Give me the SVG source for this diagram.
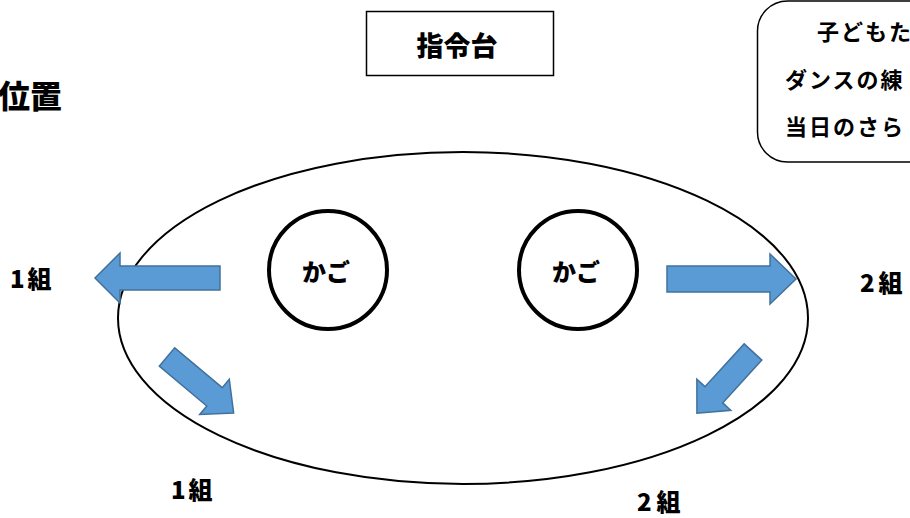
<svg xmlns="http://www.w3.org/2000/svg" width="910" height="518" viewBox="0 0 910 518">
  <style>
    .pop { font-family: "Noto Sans CJK JP", "Noto Sans", sans-serif; font-weight: 900; fill: #000; }
    .note { font-family: "Noto Sans CJK JP", "Noto Sans", sans-serif; font-weight: 700; fill: #000; font-size: 22px; letter-spacing: 2px; }
    .arrow { fill: #5B9BD5; stroke: #41719C; stroke-width: 1.5; stroke-linejoin: miter; }
    .ring { fill: none; stroke: #000; stroke-width: 4; }
  </style>
  <rect width="910" height="518" fill="#fff"/>

  <g id="field">
    <ellipse cx="463" cy="318" rx="345" ry="166" fill="none" stroke="#000" stroke-width="2"/>
  </g>

  <g id="title">
    <text class="pop" x="-2" y="108" font-size="32">位置</text>
  </g>

  <g id="podium">
    <rect x="366.5" y="11.5" width="187" height="64" fill="#fff" stroke="#000" stroke-width="1.5"/>
    <text class="pop" x="457" y="56" font-size="27" text-anchor="middle">指令台</text>
  </g>

  <g id="note">
    <rect x="757.5" y="1" width="200" height="161" rx="30" ry="30" fill="#fff" stroke="#000" stroke-width="1.5"/>
    <text class="note" x="817" y="40">子どもた</text>
    <text class="note" x="785" y="88">ダンスの練</text>
    <text class="note" x="785" y="135">当日のさら</text>
  </g>

  <g id="basket1">
    <circle class="ring" cx="328" cy="270" r="59"/>
    <text class="pop" x="326" y="281" font-size="24" text-anchor="middle">かご</text>
  </g>

  <g id="basket2">
    <circle class="ring" cx="578" cy="270" r="59"/>
    <text class="pop" x="576" y="281" font-size="24" text-anchor="middle">かご</text>
  </g>

  <g id="label-1-left">
    <text class="pop" x="10" y="288" font-size="24" letter-spacing="3">1組</text>
  </g>
  <g id="label-2-right">
    <text class="pop" x="860" y="292" font-size="24" letter-spacing="4">2組</text>
  </g>
  <g id="label-1-bottom">
    <text class="pop" x="171" y="499" font-size="24" letter-spacing="3">1組</text>
  </g>
  <g id="label-2-bottom">
    <text class="pop" x="637" y="511" font-size="24" letter-spacing="5">2組</text>
  </g>

  <g id="connectors">
    <polygon class="arrow" points="0,-12 100,-12 100,-25 125,0 100,25 100,12 0,12" transform="translate(220,278) rotate(180)"/>
    <polygon class="arrow" points="0,-13 103,-13 103,-25 129,0 103,25 103,13 0,13" transform="translate(667,279)"/>
    <polygon class="arrow" points="0,-12 62,-12 62,-23 87,0 62,23 62,12 0,12" transform="translate(167,357) rotate(40)"/>
    <polygon class="arrow" points="0,-12 58,-12 58,-23 83,0 58,23 58,12 0,12" transform="translate(753,352) rotate(132.5)"/>
  </g>
</svg>
